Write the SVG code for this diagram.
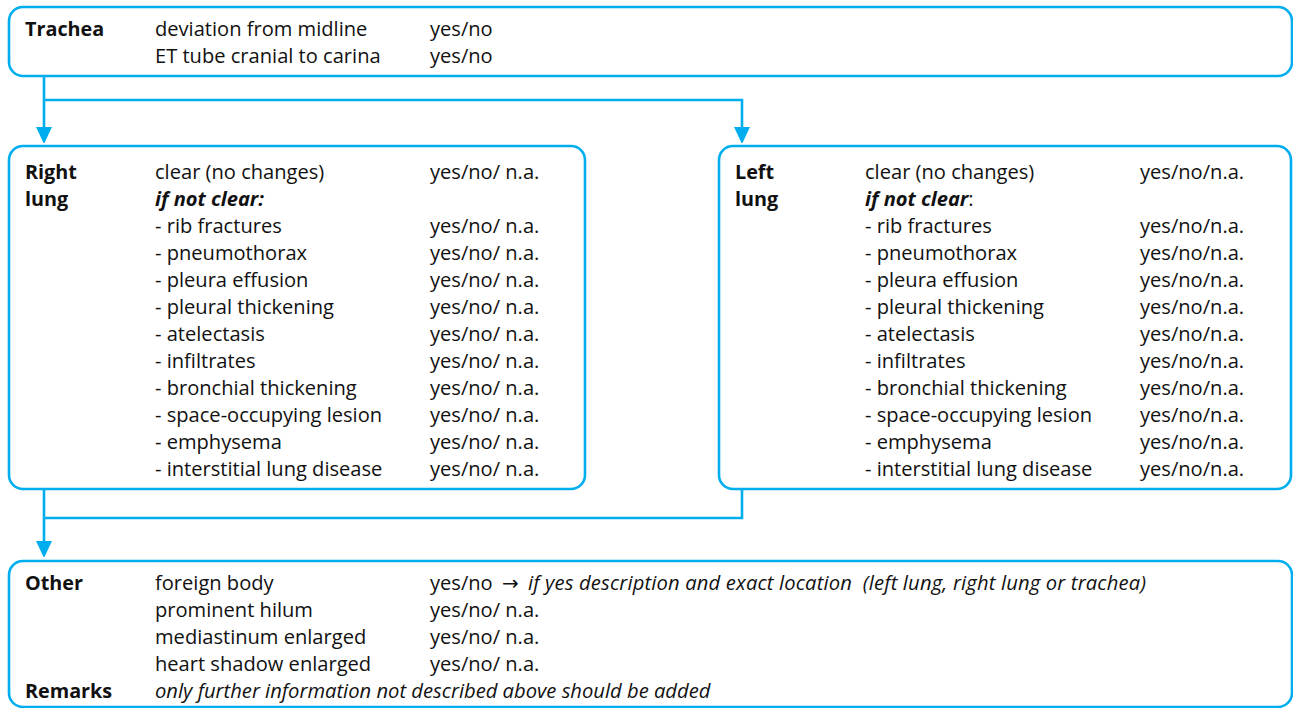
<svg xmlns="http://www.w3.org/2000/svg" width="1293" height="708" viewBox="0 0 1293 708">
  <defs>
    <marker id="arrow" markerUnits="userSpaceOnUse" markerWidth="16" markerHeight="16" refX="10" refY="8" orient="auto">
      <path d="M0,0 L17,8 L0,16 Z" fill="#00AEEF"/>
    </marker>
    <style>
      .box { fill: #ffffff; stroke: #00AEEF; stroke-width: 2.6; }
      .link { fill: none; stroke: #00AEEF; stroke-width: 2.6; }
      text { font-family: "Open Sans", "Liberation Sans", "DejaVu Sans", sans-serif; font-size: 20.1px; fill: #111111; }
      .hd { font-weight: bold; font-size: 19.8px; }
      .bi { font-weight: bold; font-style: italic; }
      .it { font-style: italic; font-size: 20.2px; white-space: pre; }
      .sym { font-family: "DejaVu Sans", sans-serif; font-size: 20px; }
    </style>
  </defs>

  <rect width="1293" height="708" fill="#ffffff"/>

  <!-- connectors -->
  <g id="connectors">
    <path class="link" d="M44,76 V137" marker-end="url(#arrow)"/>
    <path class="link" d="M44,100 H742 V137" marker-end="url(#arrow)"/>
    <path class="link" d="M44,489 V551" marker-end="url(#arrow)"/>
    <path class="link" d="M742,489 V518 H44"/>
  </g>

  <!-- trachea -->
  <g id="trachea">
    <rect class="box" x="9" y="7" width="1283" height="69" rx="14"/>
    <text class="hd" x="25" y="36">Trachea</text>
    <text x="155" y="36">deviation from midline</text>
    <text x="430" y="36">yes/no</text>
    <text x="155" y="63">ET tube cranial to carina</text>
    <text x="430" y="63">yes/no</text>
  </g>

  <!-- right lung -->
  <g id="right-lung">
    <rect class="box" x="9" y="146" width="576" height="343" rx="14"/>
    <text class="hd" x="25" y="179">Right</text>
    <text class="hd" x="25" y="206">lung</text>
    <text x="155" y="179">clear (no changes)</text>
    <text x="430" y="179">yes/no/ n.a.</text>
    <text class="bi" x="155" y="206">if not clear:</text>
    <text x="155" y="233">- rib fractures</text>
    <text x="430" y="233">yes/no/ n.a.</text>
    <text x="155" y="260">- pneumothorax</text>
    <text x="430" y="260">yes/no/ n.a.</text>
    <text x="155" y="287">- pleura effusion</text>
    <text x="430" y="287">yes/no/ n.a.</text>
    <text x="155" y="314">- pleural thickening</text>
    <text x="430" y="314">yes/no/ n.a.</text>
    <text x="155" y="341">- atelectasis</text>
    <text x="430" y="341">yes/no/ n.a.</text>
    <text x="155" y="368">- infiltrates</text>
    <text x="430" y="368">yes/no/ n.a.</text>
    <text x="155" y="395">- bronchial thickening</text>
    <text x="430" y="395">yes/no/ n.a.</text>
    <text x="155" y="422">- space-occupying lesion</text>
    <text x="430" y="422">yes/no/ n.a.</text>
    <text x="155" y="449">- emphysema</text>
    <text x="430" y="449">yes/no/ n.a.</text>
    <text x="155" y="476">- interstitial lung disease</text>
    <text x="430" y="476">yes/no/ n.a.</text>
  </g>

  <!-- left lung -->
  <g id="left-lung">
    <rect class="box" x="719" y="146" width="572" height="343" rx="14"/>
    <text class="hd" x="735" y="179">Left</text>
    <text class="hd" x="735" y="206">lung</text>
    <text x="865" y="179">clear (no changes)</text>
    <text x="1140" y="179">yes/no/n.a.</text>
    <text x="865" y="206"><tspan class="bi">if not clear</tspan>:</text>
    <text x="865" y="233">- rib fractures</text>
    <text x="1140" y="233">yes/no/n.a.</text>
    <text x="865" y="260">- pneumothorax</text>
    <text x="1140" y="260">yes/no/n.a.</text>
    <text x="865" y="287">- pleura effusion</text>
    <text x="1140" y="287">yes/no/n.a.</text>
    <text x="865" y="314">- pleural thickening</text>
    <text x="1140" y="314">yes/no/n.a.</text>
    <text x="865" y="341">- atelectasis</text>
    <text x="1140" y="341">yes/no/n.a.</text>
    <text x="865" y="368">- infiltrates</text>
    <text x="1140" y="368">yes/no/n.a.</text>
    <text x="865" y="395">- bronchial thickening</text>
    <text x="1140" y="395">yes/no/n.a.</text>
    <text x="865" y="422">- space-occupying lesion</text>
    <text x="1140" y="422">yes/no/n.a.</text>
    <text x="865" y="449">- emphysema</text>
    <text x="1140" y="449">yes/no/n.a.</text>
    <text x="865" y="476">- interstitial lung disease</text>
    <text x="1140" y="476">yes/no/n.a.</text>
  </g>

  <!-- other findings and remarks -->
  <g id="other">
    <rect class="box" x="9" y="561" width="1283" height="146" rx="14"/>
    <text class="hd" x="25" y="590">Other</text>
    <text x="155" y="590">foreign body</text>
    <text x="430" y="590">yes/no</text>
    <text class="sym" x="502" y="590">→</text>
    <text class="it" x="528" y="590" textLength="618">if yes description and exact location  (left lung, right lung or trachea)</text>
    <text x="155" y="617">prominent hilum</text>
    <text x="430" y="617">yes/no/ n.a.</text>
    <text x="155" y="644">mediastinum enlarged</text>
    <text x="430" y="644">yes/no/ n.a.</text>
    <text x="155" y="671">heart shadow enlarged</text>
    <text x="430" y="671">yes/no/ n.a.</text>
    <text class="hd" x="25" y="698">Remarks</text>
    <text class="it" x="155" y="698">only further information not described above should be added</text>
  </g>
</svg>
